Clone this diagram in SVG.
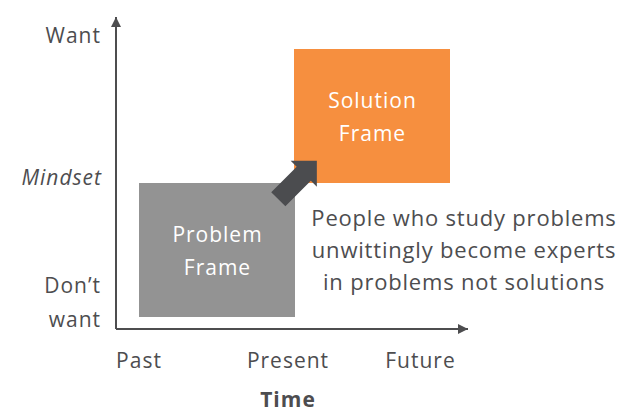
<svg xmlns="http://www.w3.org/2000/svg" width="624" height="412" viewBox="0 0 624 412">
  <style>
    text { font-family: "Open Sans", "Noto Sans", "Liberation Sans", sans-serif; fill: #4d4d4f; font-size: 21px; letter-spacing: 1px; }
    .w { fill: #ffffff; }
    .c { font-size: 22px; letter-spacing: 0.8px; }
    .ax { stroke: #4d4d4f; stroke-width: 2; fill: none; }
  </style>
  <defs>
    <marker id="ah" viewBox="0 0 10 10" refX="10" refY="5" markerWidth="10" markerHeight="10" markerUnits="userSpaceOnUse" orient="auto">
      <path d="M0,0 L10,5 L0,10 Z" fill="#4d4d4f"/>
    </marker>
  </defs>
  <rect width="624" height="412" fill="#ffffff"/>

  <g id="problem-frame">
    <rect x="139" y="183" width="156" height="134" fill="#939393"/>
    <text class="w" x="217.5" y="242" text-anchor="middle">Problem</text>
    <text class="w" x="217.5" y="275" text-anchor="middle">Frame</text>
  </g>

  <g id="solution-frame">
    <rect x="294" y="49" width="156" height="134" fill="#f68f3f"/>
    <text class="w" x="372.5" y="108" text-anchor="middle">Solution</text>
    <text class="w" x="372.5" y="141" text-anchor="middle">Frame</text>
  </g>

  <g id="connectors">
    <path class="ax" d="M116,329 L116,17" marker-end="url(#ah)"/>
    <path class="ax" d="M116,329 L468,329" marker-end="url(#ah)"/>
    <polygon transform="translate(278.3,199.2) rotate(-45)" points="0,-10 36,-10 36,-18.5 54.5,0 36,18.5 36,10 0,10" fill="#4b4c4f"/>
  </g>

  <g id="axis-labels">
    <text x="101" y="43" text-anchor="end">Want</text>
    <text x="102" y="185" text-anchor="end" font-style="italic" letter-spacing="2">Mindset</text>
    <text x="101" y="293" text-anchor="end">Don’t</text>
    <text x="101" y="327" text-anchor="end">want</text>
    <text x="139" y="368" text-anchor="middle">Past</text>
    <text x="288" y="368" text-anchor="middle">Present</text>
    <text x="420.5" y="368" text-anchor="middle">Future</text>
    <text x="288" y="407" text-anchor="middle" font-weight="bold" letter-spacing="0.5">Time</text>
  </g>
  <g id="callout">
    <text class="c" x="464" y="226" text-anchor="middle">People who study problems</text>
    <text class="c" x="464" y="258" text-anchor="middle">unwittingly become experts</text>
    <text class="c" x="464" y="290" text-anchor="middle">in problems not solutions</text>
  </g>
</svg>
